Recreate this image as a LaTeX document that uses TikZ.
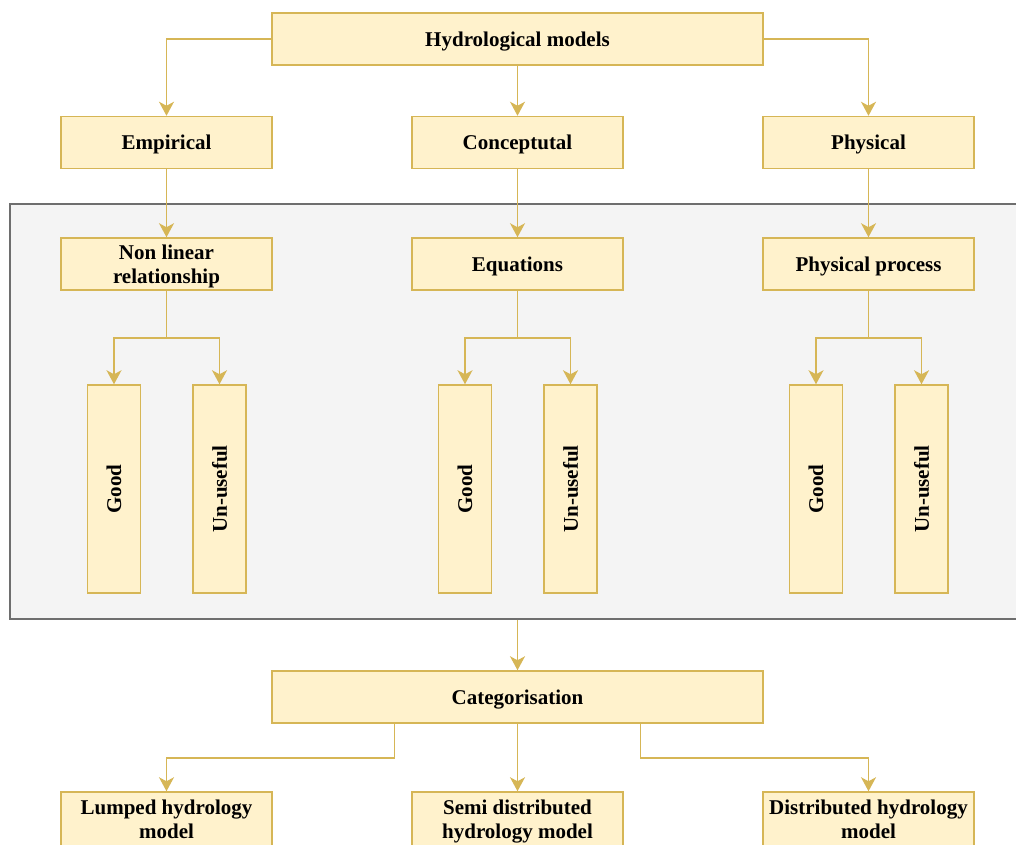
\documentclass[tikz,border=0pt]{standalone}
\usepackage{fontspec}
\setmainfont{Liberation Serif}
\usepackage{graphicx}
\usetikzlibrary{arrows.meta,calc}
\definecolor{boxfill}{HTML}{FFF2CC}
\definecolor{boxline}{HTML}{D6B656}
\definecolor{panelfill}{HTML}{F4F4F4}
\definecolor{panelline}{HTML}{6E6E6E}
\begin{document}
\begin{tikzpicture}[x=1pt,y=-1pt,
  box/.style={draw=boxline, fill=boxfill, line width=1.5pt, minimum width=211pt, minimum height=52pt,
    font=\fontsize{21}{24}\selectfont\bfseries, align=center, inner sep=0pt, text depth=0pt},
  widebox/.style={box, minimum width=491pt},
  vbox/.style={box, minimum width=53pt, minimum height=208pt},
  conn/.style={draw=boxline, line width=1.5pt, -{Stealth[length=14pt,width=15pt,inset=4pt]}},
  panel/.style={draw=panelline, fill=panelfill, line width=1.5pt}
]
\useasboundingbox (0,0) rectangle (1016,844);
\clip (0,0) rectangle (1016,844);

% panel
\node[panel, minimum width=1030pt, minimum height=415pt, inner sep=0pt, anchor=north west] (panel) at (9,203) {};

% top level
\node[widebox] (hm) at (517.5,39) {Hydrological models};
\node[box] (emp) at (166.5,142.5) {Empirical};
\node[box] (con) at (517.5,142.5) {Conceptutal};
\node[box] (phy) at (868.5,142.5) {Physical};

% second level
\node[box] (nl) at (166.5,264) {Non linear\\relationship};
\node[box] (eq) at (517.5,264) {Equations};
\node[box] (pp) at (868.5,264) {Physical process};

% vertical boxes
\node[vbox] (g1) at (114,489) {\rotatebox{90}{Good}};
\node[vbox] (u1) at (219.5,489) {\rotatebox{90}{Un-useful}};
\node[vbox] (g2) at (465,489) {\rotatebox{90}{Good}};
\node[vbox] (u2) at (570.5,489) {\rotatebox{90}{Un-useful}};
\node[vbox] (g3) at (816,489) {\rotatebox{90}{Good}};
\node[vbox] (u3) at (921.5,489) {\rotatebox{90}{Un-useful}};

% categorisation
\node[widebox] (cat) at (517.5,697) {Categorisation};
\node[box, minimum height=54pt] (lump) at (166.5,819) {Lumped hydrology\\model};
\node[box, minimum height=54pt] (semi) at (517.5,819) {Semi distributed\\hydrology model};
\node[box, minimum height=54pt] (dist) at (868.5,819) {Distributed hydrology\\model};

% connectors
\draw[conn] (hm.west) -| (emp.north);
\draw[conn] (hm.south) -- (con.north);
\draw[conn] (hm.east) -| (phy.north);
\draw[conn] (emp.south) -- (nl.north);
\draw[conn] (con.south) -- (eq.north);
\draw[conn] (phy.south) -- (pp.north);

\coordinate (b1) at ($(nl.south)+(0,47)$);
\coordinate (b2) at ($(eq.south)+(0,47)$);
\coordinate (b3) at ($(pp.south)+(0,47)$);
\draw[conn] (nl.south) -- (b1) -| (g1.north);
\draw[conn] (b1) -| (u1.north);
\draw[conn] (eq.south) -- (b2) -| (g2.north);
\draw[conn] (b2) -| (u2.north);
\draw[conn] (pp.south) -- (b3) -| (g3.north);
\draw[conn] (b3) -| (u3.north);

\draw[conn] (panel.south -| cat.north) -- (cat.north);

\coordinate (c1) at ($(cat.south west)!0.25!(cat.south east)$);
\coordinate (c3) at ($(cat.south west)!0.75!(cat.south east)$);
\draw[conn] (c1) -- ++(0,34) -| (lump.north);
\draw[conn] (cat.south) -- (semi.north);
\draw[conn] (c3) -- ++(0,34) -| (dist.north);
\end{tikzpicture}
\end{document}
